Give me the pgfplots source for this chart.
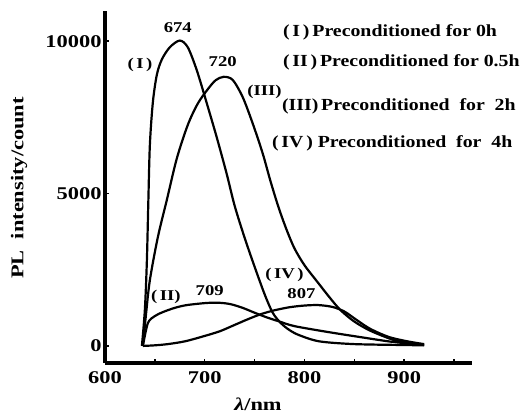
\documentclass[border=0pt]{standalone}
\usepackage{fontspec}
\setmainfont{Liberation Serif}
\newfontfamily\wfont{Liberation Serif}[FakeStretch=1.25]
\newfontfamily\kfont{Liberation Serif}[FakeStretch=1.17]
\usepackage{pgfplots}
\pgfplotsset{compat=1.18}

\newcommand\tickfont{\wfont\bfseries\fontsize{18}{20}\selectfont}
\newcommand\notefont{\wfont\bfseries\fontsize{15}{17}\selectfont}
\newcommand\keyfont{\kfont\bfseries\fontsize{17}{19}\selectfont}

\pgfplotsset{curve/.style={black, line width=2.2bp, smooth, no marks}}

\begin{document}
\begin{tikzpicture}
\begin{axis}[
    scale only axis,
    width=367bp, height=352bp,
    xmin=600, xmax=968,
    ymin=-560, ymax=10990,
    axis lines=left,
    axis line style={line width=3.5bp, -},
    tick align=inside,
    xtick={600,700,800,900},
    minor xtick={650,750,850,950},
    ytick={0,5000,10000},
    major tick length=4bp, minor tick length=4bp,
    tick style={line width=1.5bp, black},
    ticklabel style={font=\tickfont},
    xticklabel style={yshift=-5bp},
    scaled y ticks=false,
    yticklabel style={/pgf/number format/.cd, 1000 sep={}},
    /pgf/number format/assume math mode=true,
    xlabel={\textit{λ}/nm},
    ylabel={PL\ \ intensity/count},
    label style={font=\tickfont},
    xlabel style={at={(rel axis cs:0.4169,-0.1165)}, anchor=center},
    ylabel style={at={(rel axis cs:-0.2343,0.497)}, anchor=center},
    clip=false,
]

% (I) 0 h
\addplot[curve] coordinates {
    (637,0) (640,1200) (642,2800) (643.5,4800) (645,6600) (648,8000)
    (652,8900) (657,9400) (665,9800) (675,10020) (683,9800) (692,9050)
    (702,7970) (712,6850) (722,5650) (730,4600) (740,3550)
    (750,2600) (760,1700) (768,1100) (776,760) (785,520) (795,350)
    (815,150) (850,60) (900,30) (920,20)
};

% (II) 0.5 h
\addplot[curve] coordinates {
    (638,0) (643,750) (650,980) (658,1110) (670,1250) (682,1340)
    (702,1410) (715,1415) (726,1370) (738,1250) (750,1090) (762,940)
    (775,800) (790,650) (823,460) (856,290) (889,130) (920,40)
};

% (III) 2 h
\addplot[curve] coordinates {
    (638,0) (641,1000) (645,2160) (653,3570) (662,4790) (672,6150)
    (683,7250) (693,7950) (703,8420) (711,8720) (719,8830) (728,8730)
    (738,8170) (748,7310) (758,6330) (766,5400) (774,4550) (782,3820)
    (790,3200) (800,2650) (813,2100) (825,1600) (836,1180) (850,800)
    (866,500) (889,200) (905,90) (920,30)
};

% (IV) 4 h
\addplot[curve] coordinates {
    (638,0) (650,20) (663,60) (680,150) (697,300) (715,480) (730,690)
    (745,900) (757,1050) (770,1170) (785,1270) (800,1325) (814,1340)
    (828,1280) (840,1130) (852,860) (866,560) (885,290) (905,140) (920,60)
};

% peak labels
\node[font=\notefont] at (axis cs:673,10432) {674};
\node[font=\notefont] at (axis cs:635,9218) {(\,I\,)};
\node[font=\notefont] at (axis cs:718,9316) {720};
\node[font=\notefont] at (axis cs:760,8331) {(III)};
\node[font=\notefont] at (axis cs:661,1605) {(\,II)};
\node[font=\notefont] at (axis cs:705,1802) {709};
\node[font=\notefont] at (axis cs:780,2327) {(\,IV\,)};
\node[font=\notefont] at (axis cs:797,1704) {807};

% key text
\node[font=\keyfont, anchor=west] at (axis cs:775,10300) {(\,I\,)\,Preconditioned for 0h};
\node[font=\keyfont, anchor=west] at (axis cs:775,9316) {(\,II\,)\,Preconditioned for 0.5h};
\node[font=\keyfont, anchor=west] at (axis cs:774,7872) {(III)\,Preconditioned\ \ for\ \ 2h};
\node[font=\keyfont, anchor=west] at (axis cs:764,6658) {(\,IV\,)\ Preconditioned\ \ for\ \ 4h};

\coordinate (bbl) at (rel axis cs:-0.2861,-0.14205);
\coordinate (btr) at (rel axis cs:1.15804,1.03125);
\end{axis}
\pgfresetboundingbox
\useasboundingbox (bbl) rectangle (btr);
\end{tikzpicture}
\end{document}
